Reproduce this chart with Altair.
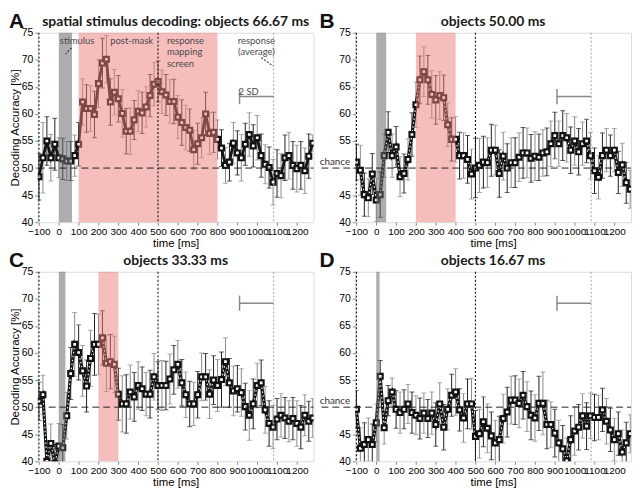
import altair as alt
import pandas as pd

# ---------------- data ----------------
times = list(range(-100, 1281, 20))  # 70 time points [ms]

acc_a = [48.4, 51.9, 55.0, 51.9, 54.4, 51.9, 51.7, 51.3, 51.3, 52.3,
         54.4, 62.2, 61.0, 61.0, 59.9, 65.6, 69.4, 70.1, 62.2, 64.0,
         62.8, 60.1, 56.8, 56.8, 58.9, 60.5, 60.2, 61.3, 63.4, 65.5,
         66.0, 64.1, 63.5, 62.3, 62.3, 59.4, 58.4, 57.5, 57.0, 53.4,
         54.5, 55.6, 60.0, 56.4, 56.6, 55.3, 53.7, 50.5, 51.1, 54.6,
         52.8, 51.9, 54.4, 56.2, 54.1, 55.6, 52.3, 50.7, 50.1, 47.4,
         49.0, 48.6, 51.9, 52.3, 50.5, 49.9, 50.5, 49.5, 52.2, 54.6]
err_a = [4.3, 6.5, 4.5, 4.3, 4.8, 3.7, 3.8, 3.6, 3.6, 3.8,
         4.0, 4.3, 4.4, 4.2, 4.3, 4.4, 4.6, 4.4, 4.3, 4.2,
         4.3, 4.4, 4.2, 4.3, 3.6, 3.8, 3.8, 3.7, 3.9, 4.0,
         3.8, 4.0, 3.8, 4.0, 4.1, 4.0, 4.2, 4.1, 3.9, 3.6,
         3.8, 3.7, 4.0, 3.9, 3.7, 3.6, 3.4, 3.3, 3.5, 3.8,
         4.1, 4.3, 3.9, 4.0, 3.9, 4.1, 4.0, 3.6, 3.8, 4.2,
         4.4, 4.1, 4.2, 4.3, 4.4, 4.3, 4.4, 4.2, 4.1, 1.5]

acc_b = [51.1, 49.6, 45.1, 44.5, 48.9, 44.1, 45.1, 52.3, 56.6, 52.3,
         53.9, 48.4, 49.0, 51.6, 56.2, 61.7, 66.3, 67.8, 66.3, 63.6,
         62.6, 63.4, 63.0, 58.0, 55.3, 55.3, 52.3, 52.3, 51.6, 48.9,
         50.0, 50.5, 51.1, 51.0, 53.3, 53.3, 49.0, 52.2, 50.0, 51.0,
         51.0, 52.0, 52.8, 52.8, 51.8, 52.2, 52.0, 52.8, 53.0, 54.5,
         56.0, 54.5, 56.0, 55.6, 53.3, 55.0, 53.0, 54.5, 55.0, 52.3,
         49.5, 48.3, 52.3, 53.3, 52.3, 53.3, 49.2, 50.6, 47.3, 46.1]
err_b = [3.3, 4.6, 4.0, 3.5, 3.8, 4.0, 4.2, 4.0, 3.8, 4.0,
         3.8, 3.7, 3.6, 3.8, 4.0, 4.2, 4.4, 4.6, 4.5, 4.4,
         4.5, 4.4, 4.2, 4.0, 4.0, 4.2, 4.3, 4.2, 4.4, 4.6,
         5.5, 5.0, 4.8, 4.6, 4.8, 4.6, 4.4, 4.4, 4.5, 4.6,
         4.6, 4.5, 4.7, 4.6, 4.4, 4.5, 4.3, 4.3, 4.4, 4.2,
         4.3, 4.2, 4.6, 4.5, 4.3, 4.5, 4.3, 4.0, 4.0, 4.3,
         4.2, 4.0, 4.2, 4.0, 3.8, 4.0, 3.9, 4.0, 3.8, 3.5]

acc_c = [51.1, 52.3, 40.0, 43.3, 39.6, 42.8, 42.5, 48.4, 56.2, 61.6,
         60.1, 56.7, 53.9, 59.0, 61.6, 61.6, 62.8, 58.1, 58.4, 57.9,
         52.4, 50.6, 50.6, 52.8, 51.9, 54.0, 53.4, 52.4, 52.4, 55.6,
         54.0, 54.0, 54.0, 55.2, 56.9, 57.9, 54.5, 52.3, 50.6, 50.6,
         52.3, 55.6, 55.6, 52.4, 55.0, 54.0, 55.1, 58.4, 54.5, 53.0,
         53.4, 52.7, 50.1, 48.5, 50.6, 54.0, 54.5, 49.5, 47.0, 46.3,
         47.8, 48.5, 48.0, 47.4, 47.9, 47.0, 46.3, 48.5, 47.4, 48.0]
err_c = [3.5, 3.6, 3.0, 3.6, 3.5, 4.2, 4.3, 4.3, 4.8, 5.9,
         5.1, 4.7, 4.8, 5.2, 5.7, 5.6, 5.0, 5.2, 5.0, 5.2,
         4.8, 5.2, 5.4, 5.0, 4.5, 4.4, 4.0, 4.0, 4.4, 4.3,
         4.4, 4.6, 4.5, 4.6, 4.5, 4.4, 4.3, 4.2, 4.2, 4.0,
         4.3, 4.4, 4.3, 4.5, 4.5, 4.8, 5.1, 4.4, 4.5, 4.6,
         4.3, 4.4, 4.3, 4.6, 4.6, 4.1, 4.2, 4.3, 4.2, 4.0,
         3.8, 4.0, 3.8, 3.8, 3.9, 4.2, 4.0, 3.8, 3.7, 3.6]

acc_d = [49.6, 42.4, 43.1, 44.0, 43.1, 47.1, 55.7, 46.2, 51.2, 52.8,
         49.6, 49.0, 49.6, 50.6, 49.0, 48.5, 47.9, 48.9, 47.9, 48.9,
         46.8, 50.6, 46.3, 49.6, 52.2, 52.8, 49.5, 48.0, 50.6, 50.6,
         44.6, 45.1, 47.3, 46.1, 44.7, 43.4, 44.0, 47.9, 49.1, 51.3,
         51.3, 50.7, 52.2, 50.1, 48.5, 48.0, 50.7, 50.7, 46.8, 46.8,
         45.2, 43.4, 42.3, 40.1, 44.0, 45.6, 46.3, 48.4, 46.5, 48.4,
         48.1, 48.1, 49.5, 47.4, 45.8, 44.0, 45.1, 41.7, 43.4, 45.1]
err_d = [3.5, 3.8, 4.0, 4.0, 3.8, 3.5, 2.9, 3.0, 2.8, 2.6,
         3.5, 3.8, 3.6, 3.6, 3.8, 3.6, 3.8, 3.7, 3.5, 3.9,
         4.0, 3.9, 4.2, 3.8, 3.9, 4.3, 3.9, 4.5, 4.6, 4.7,
         4.8, 4.5, 4.6, 4.5, 4.4, 4.2, 4.3, 4.5, 4.6, 4.4,
         4.5, 4.5, 4.4, 4.6, 4.5, 4.3, 5.0, 5.8, 4.5, 4.2,
         4.4, 4.2, 4.3, 4.2, 4.4, 4.5, 4.2, 4.1, 4.3, 4.2,
         4.3, 4.1, 4.0, 4.2, 4.0, 3.9, 4.0, 4.1, 3.8, 3.5]

letters = ["A", "B", "C", "D"]
titles = ["spatial stimulus decoding: objects 66.67 ms", "objects 50.00 ms",
          "objects 33.33 ms", "objects 16.67 ms"]
stim_dur = [66.67, 50.0, 33.33, 16.67]
mask_win = [(100, 800), (200, 400), (200, 300), None]
sd_level = [63.2, 63.2, 69.2, 69.2]
x_ticks = [-100, 0, 100, 200, 300, 400, 500, 600, 700, 800, 900, 1000, 1100, 1200]
y_ticks = [40, 45, 50, 55, 60, 65, 70, 75]
event_lines = [-100, 500]
response_mean = 1083
sd_start = 911
chance_level = 50

W, H = 278, 191
FONT = "Lato"


def X(field):
    return alt.X(field, type="quantitative", title="time [ms]",
                 scale=alt.Scale(domain=[-106, 1284], nice=False, zero=False),
                 axis=alt.Axis(values=x_ticks, grid=False, domain=False, tickSize=3, format="d",
                               labelOverlap=False, labelFontSize=10, labelPadding=1,
                               titlePadding=1, titleFontWeight="normal", titleFontSize=11.5))


def Y(field, left):
    ax = dict(values=y_ticks, grid=False, domain=False, tickSize=3, labelPadding=2,
              titlePadding=1, titleFontWeight="normal", titleFontSize=11.5, labelFontSize=10.5)
    if not left:
        ax["labelExpr"] = "datum.value == 50 ? '' : datum.label"
    return alt.Y(field, type="quantitative",
                 title="Decoding Accuracy [%]" if left else "",
                 scale=alt.Scale(domain=[40, 75], nice=False, zero=False),
                 axis=alt.Axis(**ax))


def panel(i, acc, err):
    left = i in (0, 2)
    df = pd.DataFrame({"t": times, "acc": acc,
                       "lo": [a - e for a, e in zip(acc, err)],
                       "hi": [a + e for a, e in zip(acc, err)],
                       "shade": ["k", "g"] * 35})
    base = alt.Chart(df)
    shade = alt.Color("shade:N", scale=alt.Scale(domain=["k", "g"], range=["#1e1e1e", "#8a8a8a"]),
                      legend=None)
    bars = base.mark_rule(strokeWidth=1, clip=True).encode(x=X("t"), y=Y("lo", left), y2="hi", color=shade)
    cap_lo = base.mark_tick(orient="horizontal", size=5, thickness=1, clip=True).encode(
        x=X("t"), y=Y("lo", left), color=shade)
    cap_hi = base.mark_tick(orient="horizontal", size=5, thickness=1, clip=True).encode(
        x=X("t"), y=Y("hi", left), color=shade)
    layers = [bars, cap_lo, cap_hi]
    if i == 0:
        layers.append(base.mark_line(color="#151515", strokeWidth=2.8, clip=True).encode(
            x=X("t"), y=Y("acc", left)))
    else:
        layers.append(base.mark_line(color="#151515", strokeWidth=3.2, clip=True).encode(
            x=X("t"), y=Y("acc", left)))
        layers.append(base.mark_line(color="white", strokeWidth=1.1, strokeDash=[1.5, 2.5],
                                     clip=True).encode(x=X("t"), y=Y("acc", left)))
    layers.append(base.mark_square(size=24, fill="white", stroke="#111", strokeWidth=2.2,
                                   opacity=1, clip=True).encode(x=X("t"), y=Y("acc", left)))

    # overlays: stimulus (grey) and post-mask (pink)
    stim = pd.DataFrame({"a": [0], "b": [stim_dur[i]]})
    layers.append(alt.Chart(stim).mark_rect(color="#6a6a6a", opacity=0.55).encode(
        x=X("a"), x2="b", y=alt.value(0), y2=alt.value(H)))
    if mask_win[i] is not None:
        pk = pd.DataFrame({"a": [mask_win[i][0]], "b": [mask_win[i][1]]})
        layers.append(alt.Chart(pk).mark_rect(color="#ee7c7c", opacity=0.5).encode(
            x=X("a"), x2="b", y=alt.value(0), y2=alt.value(H)))

    # event lines
    ev = pd.DataFrame({"v": event_lines})
    layers.append(alt.Chart(ev).mark_rule(color="#111", strokeWidth=1.1, strokeDash=[2, 2]).encode(
        x=X("v")))
    rv = pd.DataFrame({"v": [response_mean]})
    layers.append(alt.Chart(rv).mark_rule(color="#aaaaaa", strokeWidth=1.1, strokeDash=[2, 2]).encode(
        x=X("v")))

    # chance line
    cdf = pd.DataFrame({"c": [chance_level], "lab": ["chance"]})
    layers.append(alt.Chart(cdf).mark_rule(
        color="#222", strokeWidth=1, strokeDash=[7, 4]).encode(
        y=Y("c", left), x=alt.value(0 if left else -34), x2=alt.value(W)))
    if not left:
        layers.append(alt.Chart(cdf).mark_text(
            align="right", baseline="bottom", dy=-1, font=FONT, fontSize=10, color="#333").encode(
            y=Y("c", left), x=alt.value(-5), text="lab:N"))

    # 2 SD marker
    sd = pd.DataFrame({"a": [sd_start], "b": [response_mean], "y": [sd_level[i]],
                       "ylo": [sd_level[i] - 1.4], "yhi": [sd_level[i] + 1.4]})
    layers.append(alt.Chart(sd).mark_rule(color="#8a8a8a", strokeWidth=1.5).encode(
        x=X("a"), x2="b", y=Y("y", left)))
    layers.append(alt.Chart(sd).mark_rule(color="#8a8a8a", strokeWidth=1.5).encode(
        x=X("a"), y=Y("ylo", left), y2="yhi"))

    if i == 0:
        ann = pd.DataFrame({
            "t": [92, 367, 545, 545, 545, 996, 996, 957],
            "y": [73.5, 73.5, 73.5, 71.4, 69.3, 73.5, 71.4, 64.0],
            "txt": ["stimulus", "post-mask", "response", "mapping", "screen",
                    "response", "(average)", "2 SD"],
            "al": ["center", "center", "left", "left", "left", "center", "center", "center"]})
        for al in ["center", "left"]:
            sub = ann[ann["al"] == al]
            layers.append(alt.Chart(sub).mark_text(align=al, baseline="middle", font=FONT,
                                                   fontSize=9.5, color="#4a4a4a").encode(
                x=X("t"), y=Y("y", left), text="txt:N"))
        arrows = pd.DataFrame({"x1": [64, 1020], "y1": [72.2, 70.4], "x2": [34, 1079], "y2": [71.1, 68.9]})
        layers.append(alt.Chart(arrows).mark_rule(color="#333", strokeWidth=1.1,
                                                  strokeDash=[2, 1.5]).encode(
            x=X("x1"), y=Y("y1", left), x2="x2", y2="y2"))

    # panel title and letter as text marks
    layers.append(alt.Chart(pd.DataFrame({"l": [titles[i]]})).mark_text(
        align="center", baseline="alphabetic", fontSize=14, fontWeight="bold", font=FONT,
        color="#1a1a1a").encode(x=alt.value(W / 2), y=alt.value(-7), text="l:N"))
    layers.append(alt.Chart(pd.DataFrame({"l": [letters[i]]})).mark_text(
        align="left", baseline="top", fontSize=21, fontWeight="bold", font="Liberation Sans",
        color="#111").encode(x=alt.value(-29 if left else -36), y=alt.value(-22), text="l:N"))

    return alt.layer(*layers).properties(width=W, height=H)


pA = panel(0, acc_a, err_a)
pB = panel(1, acc_b, err_b)
pC = panel(2, acc_c, err_c)
pD = panel(3, acc_d, err_d)

chart = alt.vconcat(
    alt.hconcat(pA, pB, spacing=4),
    alt.hconcat(pC, pD, spacing=4),
    spacing=0,
).properties(padding=0).configure_view(stroke="#777", strokeWidth=1).configure_axis(
    labelFont=FONT, labelColor="#333", titleFont=FONT, titleColor="#222", tickColor="#666"
).configure(background="white")

chart.save("out.html", embed_options={"renderer": "svg", "actions": False})
